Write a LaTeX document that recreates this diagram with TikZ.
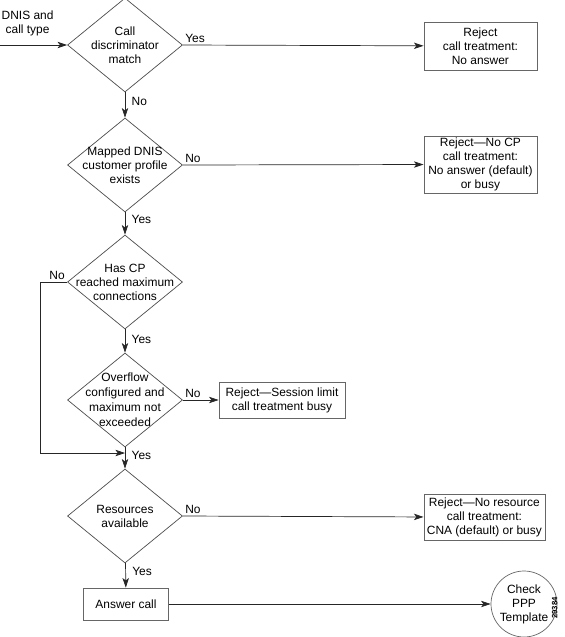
\documentclass[tikz,border=0pt]{standalone}
\usepackage{fontspec}
\setmainfont{Liberation Sans}
\usepackage{tikz}
\usetikzlibrary{shapes.geometric, positioning, calc, arrows.meta}

\tikzset{
    decision/.style={diamond, draw=black!70, minimum width=2.875cm, minimum height=2.35cm, inner sep=0pt},
    outcome/.style={rectangle, draw=black!60, align=center, inner sep=1pt},
    flow/.style={-{Stealth[length=2.4mm, width=1.6mm, inset=0.6mm]}, draw=black!85},
    lbl/.style={inner sep=1.5pt},
    dlabel/.style={align=center}
}

\begin{document}
\begin{tikzpicture}[line width=0.5pt, font=\fontsize{8.5}{10}\selectfont]
        \useasboundingbox (0,0) rectangle (14.1,-15.925);

        % Decisions
        \node[decision, label={[dlabel]center:Call\\discriminator\\match}] (match) at (3.125,-1.125) {};
        \node[decision, label={[dlabel]center:Mapped DNIS\\customer profile\\exists}] (mapped) at (3.125,-4.125) {};
        \node[decision, label={[dlabel]center:Has CP\\reached maximum\\connections}] (reach) at (3.125,-7.05) {};
        \node[decision, label={[dlabel, font=\fontsize{8.5}{10.7}\selectfont]center:Overflow\\configured and\\maximum not\\exceeded}] (overflow) at (3.125,-10.0) {};
        \node[decision, label={[dlabel]center:Resources\\available}] (resources) at (3.125,-12.9) {};

        % Outcomes
        \node[outcome, minimum width=2.825cm, minimum height=1.2cm] (noanswer) at (12.01,-1.15) {Reject\\call treatment:\\No answer};
        \node[outcome, minimum width=2.825cm, minimum height=1.425cm] (nocp) at (12.01,-4.11) {Reject---No CP\\call treatment:\\No answer (default)\\or busy};
        \node[outcome, minimum width=3.15cm, minimum height=0.9cm] (session) at (7.05,-10.0) {Reject---Session limit\\call treatment busy};
        \node[outcome, minimum width=3.025cm, minimum height=1.15cm] (noresource) at (12.11,-12.93) {Reject---No resource\\call treatment:\\CNA (default) or busy};
        \node[outcome, minimum width=2.125cm, minimum height=0.8cm] (answer) at (3.15,-15.1) {Answer call};
        \node[circle, draw=black!60, minimum size=1.65cm, inner sep=0pt, align=center] (ppp) at (13.1,-15.1) {Check\\PPP\\Template};

        % Input
        \coordinate (input) at (0,-1.125);
        \node[align=center] (dnis) at (0.69,-0.58) {DNIS and\\call type};
        \draw[flow] (input) -- (match);

        % Main flow
        \draw[flow] (match) -- node[lbl, right=3pt, pos=0.35] {No} (mapped);
        \draw[flow] (mapped) -- node[lbl, right=3pt, pos=0.3] {Yes} (reach);
        \draw[flow] (reach) -- node[lbl, right=3pt, pos=0.45] {Yes} (overflow);
        \draw[flow] (overflow) -- node[lbl, right=3pt, pos=0.4] {Yes} (resources);
        \draw[flow] (resources) -- node[lbl, right=3pt, pos=0.35] {Yes} (answer);

        % Rejects
        \draw[flow] (match.east) node[lbl, above right] {Yes} -- (noanswer);
        \draw[flow] (mapped.east) node[lbl, above right] {No} -- (nocp);
        \draw[flow] (overflow.east) node[lbl, above right] {No} -- (session);
        \draw[flow] (resources.east) node[lbl, above right] {No} -- (noresource);
        \draw[flow] (answer) -- (ppp);

        % Loop around overflow
        \coordinate (join) at (3.125,-11.325);
        \draw[flow] (reach.west) node[lbl, above left] {No} -- ++(-0.675,0) |- (join);

        \node[rotate=90, font=\fontsize{5.5}{5.5}\selectfont\bfseries] (figno) at (13.87,-15.2) {29384};
    \end{tikzpicture}
\end{document}
